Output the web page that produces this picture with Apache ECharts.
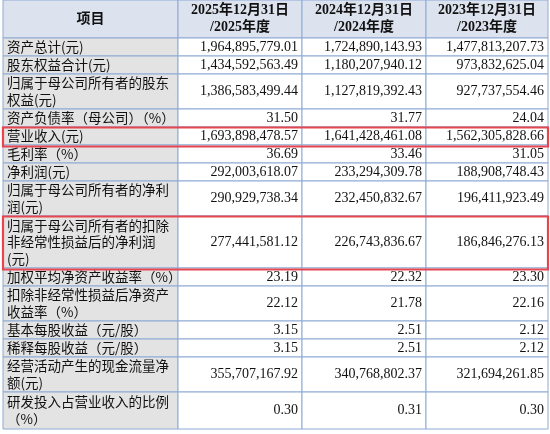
<!DOCTYPE html><html><head><meta charset="utf-8"><script src="https://cdn.jsdelivr.net/npm/echarts@6/dist/echarts.min.js"></script>
<style>html,body{margin:0;padding:0;background:#fff}#c{width:550px;height:434px}</style></head><body><div id="c"></div><script>
const headers=['项目','2025年12月31日\n/2025年度','2024年12月31日\n/2024年度','2023年12月31日\n/2023年度'];
const labels=['资产总计(元)','股东权益合计(元)','归属于母公司所有者的股东\n权益(元)','资产负债率（母公司）（%）','营业收入(元)','毛利率（%）','净利润(元)','归属于母公司所有者的净利\n润(元)','归属于母公司所有者的扣除\n非经常性损益后的净利润\n(元)','加权平均净资产收益率（%）','扣除非经常性损益后净资产\n收益率（%）','基本每股收益（元/股）','稀释每股收益（元/股）','经营活动产生的现金流量净\n额(元)','研发投入占营业收入的比例\n（%）'];
const v2025=['1,964,895,779.01','1,434,592,563.49','1,386,583,499.44','31.50','1,693,898,478.57','36.69','292,003,618.07','290,929,738.34','277,441,581.12','23.19','22.12','3.15','3.15','355,707,167.92','0.30'];
const v2024=['1,724,890,143.93','1,180,207,940.12','1,127,819,392.43','31.77','1,641,428,461.08','33.46','233,294,309.78','232,450,832.67','226,743,836.67','22.32','21.78','2.51','2.51','340,768,802.37','0.31'];
const v2023=['1,477,813,207.73','973,832,625.04','927,737,554.46','24.04','1,562,305,828.66','31.05','188,908,748.43','196,411,923.49','186,846,276.13','23.30','22.16','2.12','2.12','321,694,261.85','0.30'];
const highlighted=[4,8];
// layout
const colX=[3,178,302,426,548];
const rowH={1:18,2:36,3:52};
const headH=38;
const rowsY=[0,headH];
labels.forEach((l,i)=>{const n=l.split('\n').length;rowsY.push(rowsY[rowsY.length-1]+(n===2?(i===14?37:35):rowH[n]));});
const cols=[labels,v2025,v2024,v2023];
const data=[];
for(let c=0;c<4;c++){data.push([c,0,headers[c]]);for(let r=0;r<labels.length;r++)data.push([c,r+1,cols[c][r]]);}
const border='#8eaad6';
function renderItem(params,api){
  const c=api.value(0),r=api.value(1),t=data[params.dataIndex][2];
  const p0=api.coord([colX[c],rowsY[r]]),p1=api.coord([colX[c+1],rowsY[r+1]]);
  const x=p0[0],y=p0[1],w=p1[0]-p0[0],h=p1[1]-p0[1];
  let fill='#fff';
  if(r===0)fill='#dde3ee';else if(c===0)fill='#e3e3e3';
  const isHead=r===0, isLab=c===0;
  const tx=isHead?x+w/2:(isLab?x+4:x+w-4);
  return {type:'group',children:[
    {type:'rect',shape:{x,y,width:w,height:h},style:{fill,stroke:border,lineWidth:1}},
    {type:'text',style:{text:t,x:tx,y:y+h/2,align:isHead?'center':(isLab?'left':'right'),verticalAlign:'middle',
      font:(isHead?'bold 14px ':(isLab?'13.5px ':'14px '))+(isLab&&!isHead?'"Noto Sans CJK SC"':'"Liberation Serif","Noto Sans CJK SC"'),
      lineHeight:isHead?17:(isLab?16.5:16),fill:'#111'}}
  ]};
}
const boxData=highlighted.map(i=>[i+1]);
function renderBox(params,api){
  const r=api.value(0);
  const p0=api.coord([colX[0],rowsY[r]]),p1=api.coord([colX[4],rowsY[r+1]]);
  return {type:'rect',shape:{x:p0[0],y:p0[1]+0.5,width:p1[0]-p0[0],height:p1[1]-p0[1]+1},style:{fill:'none',stroke:'#e8464f',lineWidth:2.2}};
}
const ch=echarts.init(document.getElementById('c'));
ch.setOption({animation:false,grid:{left:0,right:0,top:0,bottom:0},
xAxis:{type:'value',min:0,max:550,show:false},
yAxis:{type:'value',min:0,max:434,inverse:true,show:false},
series:[{type:'custom',renderItem,data:data.map(d=>[d[0],d[1]]),silent:true},
{type:'custom',renderItem:renderBox,data:boxData,silent:true,z:5}]});
</script></body></html>
